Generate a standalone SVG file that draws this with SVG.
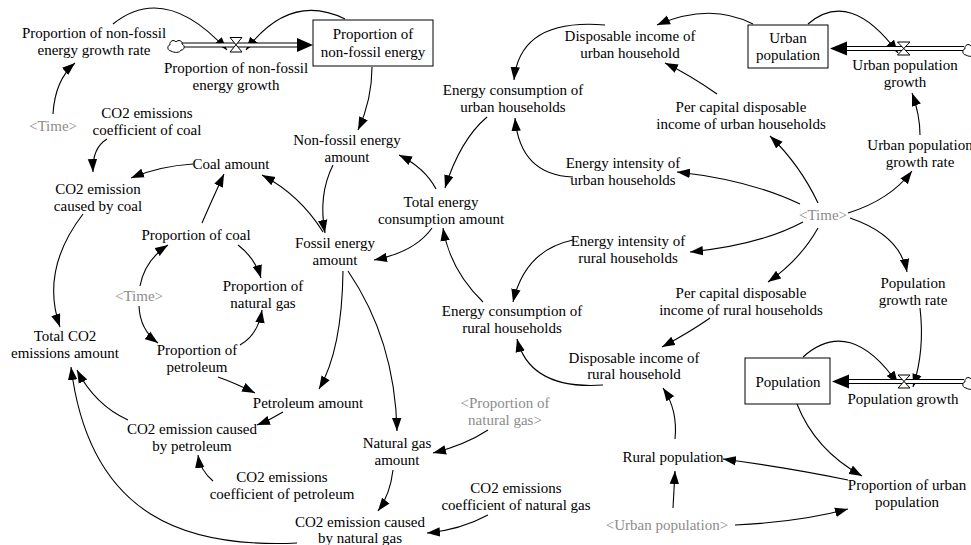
<svg xmlns="http://www.w3.org/2000/svg" width="971" height="545" viewBox="0 0 971 545" font-family="'Liberation Serif', 'DejaVu Serif', serif">
<defs>
<marker id="ah" markerUnits="userSpaceOnUse" markerWidth="13" markerHeight="10" viewBox="0 0 13 10" refX="13" refY="5" orient="auto">
<path d="M0,0.3 L13,5 L0,9.7 z" fill="#000"/>
</marker>
<style>
text{font-family:'Liberation Serif','DejaVu Serif',serif;font-size:15px;fill:#000;text-anchor:middle}
.g{fill:#8c8c8c}
.c{fill:none;stroke:#000;stroke-width:1.1;marker-end:url(#ah)}
.box{fill:#fff;stroke:#000;stroke-width:1}
.po{fill:none;stroke:#000;stroke-width:5}
.pi{fill:none;stroke:#fff;stroke-width:2.8}
.valve{fill:#fff;stroke:#000;stroke-width:1}
.cloud{fill:#fff;stroke:#000;stroke-width:1}
</style>
</defs>
<rect width="971" height="545" fill="#fff"/>

<g id="connectors">
<path class="c" d="M113,24 Q165,-18 227,50"/>
<path class="c" d="M345,19 Q290,-8 246,50"/>
<path class="c" d="M53,114 Q55,80 75,63"/>
<path class="c" d="M107,139 Q92,148 93,172"/>
<path class="c" d="M193,164 Q160,166 131,178"/>
<path class="c" d="M83,214 Q40,270 60,327"/>
<path class="c" d="M202,223 Q212,200 224,174"/>
<path class="c" d="M323,232 Q300,195 262,175"/>
<path class="c" d="M140,286 Q145,260 168,245"/>
<path class="c" d="M139,306 Q140,330 158,343"/>
<path class="c" d="M238,245 Q255,258 261,278"/>
<path class="c" d="M240,345 Q258,335 262,310"/>
<path class="c" d="M218,377 Q235,383 255,393"/>
<path class="c" d="M343,271 Q342,350 319,389"/>
<path class="c" d="M348,271 Q395,340 397,431"/>
<path class="c" d="M283,412 Q270,420 257,425"/>
<path class="c" d="M213,481 Q200,470 198,455"/>
<path class="c" d="M128,420 Q95,405 77,370"/>
<path class="c" d="M297,543 C190,548 90,520 71,367"/>
<path class="c" d="M488,430 Q465,445 433,453"/>
<path class="c" d="M393,470 Q390,495 378,511"/>
<path class="c" d="M488,515 Q460,530 427,533"/>
<path class="c" d="M372,67 Q372,100 358,130"/>
<path class="c" d="M333,165 Q318,195 325,233"/>
<path class="c" d="M436,189 Q425,168 399,155"/>
<path class="c" d="M432,228 Q415,252 374,260"/>
<path class="c" d="M487,117 Q460,140 445,188"/>
<path class="c" d="M483,302 Q450,270 443,228"/>
<path class="c" d="M605,25 Q520,18 514,80"/>
<path class="c" d="M753,24 Q710,2 657,25"/>
<path class="c" d="M717,94 Q690,75 665,63"/>
<path class="c" d="M573,177 Q520,175 515,118"/>
<path class="c" d="M800,204 Q750,180 677,172"/>
<path class="c" d="M818,203 Q800,165 770,136"/>
<path class="c" d="M848,213 Q890,200 912,171"/>
<path class="c" d="M920,135 Q920,115 912,93"/>
<path class="c" d="M808,24 Q850,-12 898,53"/>
<path class="c" d="M803,222 Q760,245 690,252"/>
<path class="c" d="M818,228 Q800,260 768,282"/>
<path class="c" d="M850,218 Q900,235 907,272"/>
<path class="c" d="M920,308 Q925,350 913,387"/>
<path class="c" d="M803,357 Q850,315 898,384"/>
<path class="c" d="M710,318 Q690,332 662,347"/>
<path class="c" d="M573,240 Q525,250 513,302"/>
<path class="c" d="M603,385 Q530,390 517,339"/>
<path class="c" d="M797,404 Q815,450 862,476"/>
<path class="c" d="M848,480 Q790,468 723,459"/>
<path class="c" d="M675,439 Q678,410 663,388"/>
<path class="c" d="M673,508 Q674,490 675,471"/>
<path class="c" d="M735,525 Q800,522 848,509"/>
</g>

<g id="flow-nonfossil">
<path class="po" d="M182,45 H300"/>
<path class="pi" d="M181,45 H302"/>
<path d="M297,38 L313,45 L297,52 z" fill="#000"/>
<path class="cloud" d="M171,51 c-4,0 -4,-6 -1,-6 c-1,-4 4,-6 6,-3 c2,-3 7,-1 6,2 c3,1 3,6 -1,6 c-1,3 -7,3 -10,1 z"/>
<path class="valve" d="M230,37.5 H242 L230,52 H242 Z"/>
<text x="236" y="73">Proportion of non-fossil</text>
<text x="236" y="90">energy growth</text>
</g>

<g id="flow-urban">
<path class="po" d="M846,48.5 H964"/>
<path class="pi" d="M844,48.5 H965"/>
<path d="M847,41.5 L830,48.5 L847,55.5 z" fill="#000"/>
<path class="cloud" d="M966,55 c-4,0 -4,-6 -1,-6 c-1,-4 4,-6 6,-3 c2,-3 7,-1 6,2 c3,1 3,6 -1,6 c-1,3 -7,3 -10,1 z"/>
<path class="valve" d="M897.5,42 H910 L897.5,55 H910 Z"/>
<text x="905" y="70">Urban population</text>
<text x="905" y="87">growth</text>
</g>

<g id="flow-population">
<path class="po" d="M848,381.5 H964"/>
<path class="pi" d="M846,381.5 H965"/>
<path d="M849,374.5 L832,381.5 L849,388.5 z" fill="#000"/>
<path class="cloud" d="M966,388 c-4,0 -4,-6 -1,-6 c-1,-4 4,-6 6,-3 c2,-3 7,-1 6,2 c3,1 3,6 -1,6 c-1,3 -7,3 -10,1 z"/>
<path class="valve" d="M898,375 H910 L898,388 H910 Z"/>
<text x="903" y="404">Population growth</text>
</g>

<g id="pnfgr"><text x="94" y="38">Proportion of non-fossil</text><text x="94" y="55">energy growth rate</text></g>
<g id="pnfe"><rect class="box" x="313" y="20" width="120" height="46"/><text x="373" y="38.5">Proportion of</text><text x="373" y="56.5">non-fossil energy</text></g>
<g id="time1"><text class="g" x="53" y="131">&lt;Time&gt;</text></g>
<g id="coeff-coal"><text x="147" y="118">CO2 emissions</text><text x="147" y="135">coefficient of coal</text></g>
<g id="coal-amount"><text x="231" y="169">Coal amount</text></g>
<g id="co2-coal"><text x="98" y="194">CO2 emission</text><text x="98" y="211">caused by coal</text></g>
<g id="total-co2"><text x="65" y="341">Total CO2</text><text x="65" y="358">emissions amount</text></g>
<g id="prop-coal"><text x="196" y="240">Proportion of coal</text></g>
<g id="time2"><text class="g" x="139" y="301">&lt;Time&gt;</text></g>
<g id="prop-gas"><text x="263" y="291">Proportion of</text><text x="263" y="308">natural gas</text></g>
<g id="prop-petro"><text x="197" y="355">Proportion of</text><text x="197" y="372">petroleum</text></g>
<g id="petro-amount"><text x="308" y="408">Petroleum amount</text></g>
<g id="co2-petro"><text x="192" y="434">CO2 emission caused</text><text x="192" y="451">by petroleum</text></g>
<g id="coeff-petro"><text x="282" y="482">CO2 emissions</text><text x="282" y="499">coefficient of petroleum</text></g>
<g id="co2-gas"><text x="360" y="527">CO2 emission caused</text><text x="360" y="543">by natural gas</text></g>
<g id="gas-amount"><text x="397" y="448">Natural gas</text><text x="397" y="465">amount</text></g>
<g id="prop-gas-ref"><text class="g" x="505" y="408">&lt;Proportion of</text><text class="g" x="505" y="425">natural gas&gt;</text></g>
<g id="coeff-gas"><text x="516" y="493">CO2 emissions</text><text x="516" y="510">coefficient of natural gas</text></g>
<g id="fossil"><text x="335" y="248">Fossil energy</text><text x="335" y="265">amount</text></g>
<g id="nonfossil"><text x="347" y="145">Non-fossil energy</text><text x="347" y="162">amount</text></g>
<g id="total-energy"><text x="441" y="207">Total energy</text><text x="441" y="224">consumption amount</text></g>
<g id="ec-urban"><text x="513" y="95">Energy consumption of</text><text x="513" y="112">urban households</text></g>
<g id="di-urban"><text x="630" y="41">Disposable income of</text><text x="630" y="58">urban household</text></g>
<g id="urban-pop"><rect class="box" x="748" y="25" width="80" height="43"/><text x="788" y="43">Urban</text><text x="788" y="60">population</text></g>
<g id="pc-urban"><text x="741" y="112">Per capital disposable</text><text x="741" y="129">income of urban households</text></g>
<g id="ei-urban"><text x="623" y="168">Energy intensity of</text><text x="623" y="185">urban households</text></g>
<g id="time3"><text class="g" x="823" y="220">&lt;Time&gt;</text></g>
<g id="upgr"><text x="920" y="150">Urban population</text><text x="920" y="167">growth rate</text></g>
<g id="ei-rural"><text x="628" y="246">Energy intensity of</text><text x="628" y="263">rural households</text></g>
<g id="pc-rural"><text x="741" y="298">Per capital disposable</text><text x="741" y="315">income of rural households</text></g>
<g id="pgr"><text x="913" y="288">Population</text><text x="913" y="305">growth rate</text></g>
<g id="ec-rural"><text x="512" y="316">Energy consumption of</text><text x="512" y="333">rural households</text></g>
<g id="di-rural"><text x="634" y="363">Disposable income of</text><text x="634" y="379">rural household</text></g>
<g id="population"><rect class="box" x="745" y="358" width="85" height="46"/><text x="788" y="387">Population</text></g>
<g id="prop-urban"><text x="907" y="490">Proportion of urban</text><text x="907" y="507">population</text></g>
<g id="rural-pop"><text x="673" y="462">Rural population</text></g>
<g id="urban-pop-ref"><text class="g" x="667" y="530">&lt;Urban population&gt;</text></g>
</svg>
